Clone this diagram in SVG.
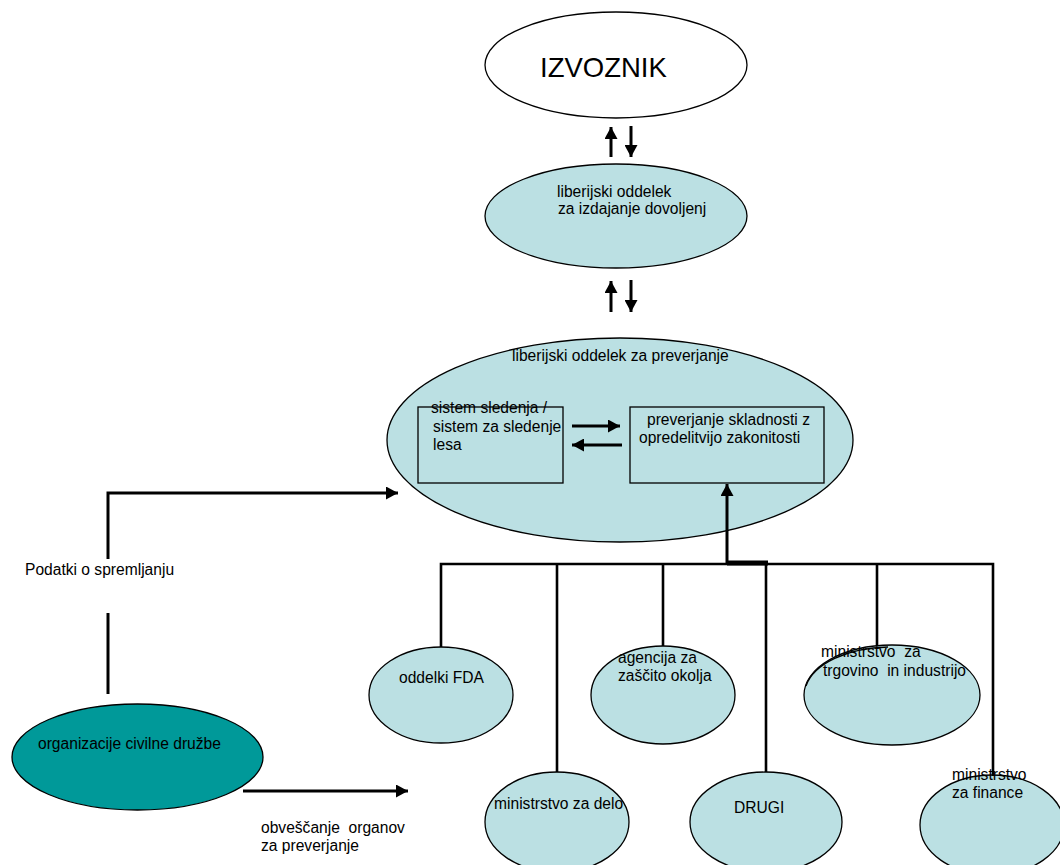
<svg xmlns="http://www.w3.org/2000/svg" width="1060" height="865" viewBox="0 0 1060 865" xml:space="preserve">
<style>
text{font-family:"Liberation Sans",Arial,sans-serif;font-size:15.6px;fill:#000;white-space:pre}
.n{fill:#BBE0E3;stroke:#000;stroke-width:1.3}
.w{fill:#fff;stroke:#000;stroke-width:1.3}
.d{fill:#009999;stroke:#000;stroke-width:1.3}
.r{fill:none;stroke:#000;stroke-width:1.3}
.c{fill:none;stroke:#000;stroke-width:3}
.t{fill:none;stroke:#000;stroke-width:2.6}
</style>
<defs>
<marker id="ah" markerUnits="userSpaceOnUse" markerWidth="14" markerHeight="13" refX="12" refY="6.5" orient="auto">
<path d="M0,0 L12,6.5 L0,13 Z" fill="#000"/>
</marker>
</defs>
<rect width="1060" height="865" fill="#fff"/>
<g id="izvoznik">
<ellipse class="w" cx="616" cy="65" rx="131" ry="53"/>
<text x="540" y="77" style="font-size:27.5px">IZVOZNIK</text>
</g>
<g id="dovoljenja">
<ellipse class="n" cx="616" cy="216" rx="131" ry="52"/>
<text x="557" y="197">liberijski oddelek</text>
<text x="558" y="214">za izdajanje dovoljenj</text>
</g>
<g id="preverjanje">
<ellipse class="n" cx="620" cy="440" rx="233" ry="102"/>
<text x="512" y="361">liberijski oddelek za preverjanje</text>
</g>
<g id="sledenje">
<rect class="r" x="418" y="407" width="145" height="76"/>
<text x="431" y="413">sistem sledenja /</text>
<text x="433" y="432">sistem za sledenje</text>
<text x="433" y="450">lesa</text>
</g>
<g id="skladnost">
<rect class="r" x="630" y="407" width="194" height="76"/>
<text x="647" y="425">preverjanje skladnosti z</text>
<text x="639" y="443">opredelitvijo zakonitosti</text>
</g>
<g id="civilna">
<ellipse class="d" cx="137.5" cy="757" rx="125.5" ry="53"/>
<text x="38" y="749">organizacije civilne družbe</text>
</g>
<g id="fda">
<ellipse class="n" cx="441" cy="695" rx="72" ry="48"/>
<text x="399" y="683">oddelki FDA</text>
</g>
<g id="okolje">
<ellipse class="n" cx="663" cy="695" rx="72" ry="49"/>
<text x="618" y="663">agencija za</text>
<text x="618" y="681">zaščito okolja</text>
</g>
<g id="trgovina">
<ellipse class="n" cx="892" cy="695" rx="88" ry="50"/>
<path class="r" d="M806,686 A86,48 0 0 1 888,647"/>
<text x="821" y="657">ministrstvo  za</text>
<text x="823" y="676">trgovino  in industrijo</text>
</g>
<g id="delo">
<ellipse class="n" cx="557" cy="822" rx="72" ry="50"/>
<text x="494" y="809">ministrstvo za delo</text>
</g>
<g id="drugi">
<ellipse class="n" cx="766" cy="822" rx="76" ry="50"/>
<text x="734" y="813">DRUGI</text>
</g>
<g id="finance">
<ellipse class="n" cx="992" cy="825" rx="72" ry="50"/>
<text x="952" y="780">ministrstvo</text>
<text x="952" y="798">za finance</text>
</g>
<g id="connectors">
<line class="c" x1="611" y1="157" x2="611" y2="127" marker-end="url(#ah)"/>
<line class="c" x1="631" y1="126" x2="631" y2="157" marker-end="url(#ah)"/>
<line class="c" x1="611" y1="312" x2="611" y2="281" marker-end="url(#ah)"/>
<line class="c" x1="631" y1="280" x2="631" y2="312" marker-end="url(#ah)"/>
<line class="c" x1="572" y1="426" x2="620" y2="426" marker-end="url(#ah)"/>
<line class="c" x1="622" y1="445" x2="572" y2="445" marker-end="url(#ah)"/>
<line class="c" x1="727" y1="564" x2="727" y2="484" marker-end="url(#ah)"/>
<path class="c" d="M108,559 V493 H398" marker-end="url(#ah)"/>
<line class="c" x1="108" y1="613" x2="108" y2="694"/>
<line class="c" x1="243" y1="791" x2="408" y2="791" marker-end="url(#ah)"/>
<path class="t" d="M441,647 V564 H993 V776"/>
<line x1="727" y1="563" x2="768" y2="563" stroke="#000" stroke-width="5"/>
<line class="t" x1="557" y1="564" x2="557" y2="772"/>
<line class="t" x1="663" y1="564" x2="663" y2="646"/>
<line class="t" x1="766" y1="564" x2="766" y2="772"/>
<line class="t" x1="877" y1="564" x2="877" y2="646"/>
</g>
<text x="25" y="575">Podatki o spremljanju</text>
<text x="261" y="833">obveščanje  organov</text>
<text x="261" y="851">za preverjanje</text>
</svg>
